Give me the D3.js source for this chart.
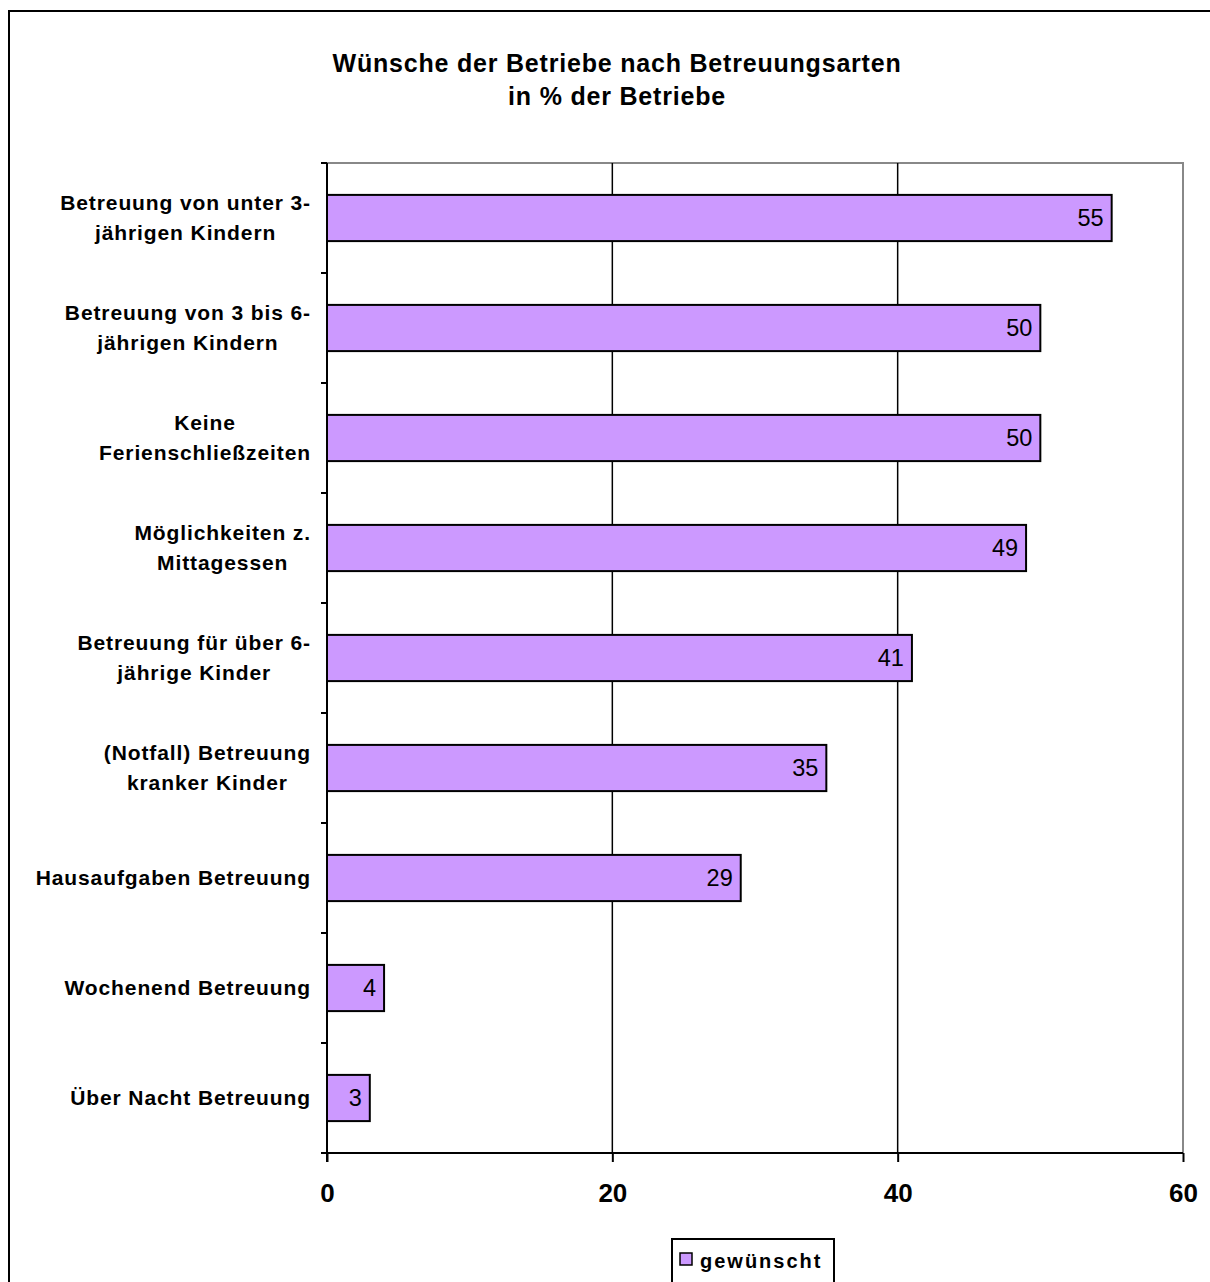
<!DOCTYPE html>
<html>
<head>
<meta charset="utf-8">
<script src="https://cdn.jsdelivr.net/npm/d3@7"></script>
<style>
  html, body { margin: 0; padding: 0; background: #fff; }
  svg { display: block; font-family: "Liberation Sans", Arial, sans-serif; }
</style>
</head>
<body>
<svg id="chart" width="1210" height="1282"></svg>
<script>
// Betreuungsarten (lines of each label separated by "\n")
const categories = [
  "Betreuung von unter 3-\njährigen Kindern",
  "Betreuung von 3 bis 6-\njährigen Kindern",
  "Keine\nFerienschließzeiten",
  "Möglichkeiten z.\nMittagessen",
  "Betreuung für über 6-\njährige Kinder",
  "(Notfall) Betreuung\nkranker Kinder",
  "Hausaufgaben Betreuung",
  "Wochenend Betreuung",
  "Über Nacht Betreuung"
];
// Anteil der Betriebe in %
const gewuenscht = [55, 50, 50, 49, 41, 35, 29, 4, 3];
const xTicks = [0, 20, 40, 60];
const titleLines = ["Wünsche der Betriebe nach Betreuungsarten", "in % der Betriebe"];
const seriesName = "gewünscht";

const svg = d3.select("#chart");
const plot = { left: 327, top: 163, right: 1183, bottom: 1153 };

// outer chart frame (runs past the right/bottom edge)
svg.append("rect")
  .attr("x", 9).attr("y", 11).attr("width", 1216).attr("height", 1290)
  .attr("fill", "#fff").attr("stroke", "#000").attr("stroke-width", 2);

// title
svg.append("g").selectAll("text").data(titleLines).join("text")
  .attr("x", 617).attr("y", (d, i) => 72 + i * 33)
  .attr("text-anchor", "middle")
  .attr("font-size", 25).attr("font-weight", "bold")
  .attr("letter-spacing", 0.8)
  .attr("fill", "#000")
  .text(d => d);

const x = d3.scaleLinear().domain([0, 60]).range([plot.left, plot.right]);
const y = d3.scaleBand().domain(categories).range([plot.top, plot.bottom]).paddingInner(0.58).paddingOuter(0.29);
const yBand = d3.scaleBand().domain(categories).range([plot.top, plot.bottom]);

// plot area border (grey top/right)
svg.append("path")
  .attr("d", `M${plot.left},${plot.top}H${plot.right}V${plot.bottom}`)
  .attr("fill", "none").attr("stroke", "#888").attr("stroke-width", 2);

// vertical gridlines
svg.append("g").selectAll("line").data(xTicks.filter(t => t > 0 && t < 60)).join("line")
  .attr("x1", d => x(d)).attr("x2", d => x(d))
  .attr("y1", plot.top).attr("y2", plot.bottom)
  .attr("stroke", "#000").attr("stroke-width", 1.5);

// bars
svg.append("g").selectAll("rect").data(gewuenscht).join("rect")
  .attr("x", x(0))
  .attr("y", (d, i) => y(categories[i]))
  .attr("width", d => x(d) - x(0))
  .attr("height", y.bandwidth())
  .attr("fill", "#CC99FF")
  .attr("stroke", "#000").attr("stroke-width", 2);

// value labels inside bar ends
svg.append("g").selectAll("text").data(gewuenscht).join("text")
  .attr("x", d => x(d) - 8)
  .attr("y", (d, i) => y(categories[i]) + y.bandwidth() / 2 + 8)
  .attr("text-anchor", "end")
  .attr("font-size", 23.5)
  .attr("fill", "#000")
  .text(d => d);

// x axis
const xAxis = d3.axisBottom(x).tickValues(xTicks).tickSize(9).tickPadding(22).tickFormat(d3.format("d"));
const gx = svg.append("g").attr("transform", `translate(0,${plot.bottom})`).call(xAxis);
gx.select(".domain").attr("stroke", "#000").attr("stroke-width", 2).attr("d", `M${plot.left - 6},0H${plot.right}`);
gx.selectAll(".tick line").attr("stroke", "#000").attr("stroke-width", 2);
gx.selectAll(".tick text")
  .attr("font-family", "Liberation Sans, Arial, sans-serif")
  .attr("font-size", 26).attr("font-weight", "bold").attr("fill", "#000");

// y axis: ticks at category boundaries
const gy = svg.append("g");
gy.append("line")
  .attr("x1", plot.left).attr("x2", plot.left)
  .attr("y1", plot.top).attr("y2", plot.bottom + 9)
  .attr("stroke", "#000").attr("stroke-width", 2);
const boundaries = categories.map(c => yBand(c));
gy.selectAll("line.tk").data(boundaries).join("line").attr("class", "tk")
  .attr("x1", plot.left - 6).attr("x2", plot.left)
  .attr("y1", d => d).attr("y2", d => d)
  .attr("stroke", "#000").attr("stroke-width", 2);

// category labels (multi-line, centred as a block, right aligned to the axis)
const labelRight = 311;
categories.forEach(c => {
  const lines = c.split("\n");
  const cy = yBand(c) + yBand.bandwidth() / 2;
  const g = gy.append("g");
  const texts = g.selectAll("text").data(lines).join("text")
    .attr("y", (d, i) => cy + (i - (lines.length - 1) / 2) * 30 + 7)
    .attr("font-size", 21).attr("font-weight", "bold")
    .attr("letter-spacing", 0.9)
    .attr("text-anchor", "middle")
    .attr("fill", "#000")
    .text(d => d);
  let maxW = 0;
  texts.each(function() { maxW = Math.max(maxW, this.getComputedTextLength()); });
  texts.attr("x", labelRight - maxW / 2);
});

// legend
const lg = svg.append("g");
lg.append("rect").attr("x", 672).attr("y", 1239).attr("width", 162).attr("height", 44)
  .attr("fill", "#fff").attr("stroke", "#000").attr("stroke-width", 2);
lg.append("rect").attr("x", 680).attr("y", 1253).attr("width", 12).attr("height", 12)
  .attr("fill", "#CC99FF").attr("stroke", "#000").attr("stroke-width", 1.5);
lg.append("text").attr("x", 700).attr("y", 1268)
  .attr("font-size", 20).attr("font-weight", "bold").attr("letter-spacing", 2)
  .attr("fill", "#000").text(seriesName);
</script>
</body>
</html>
